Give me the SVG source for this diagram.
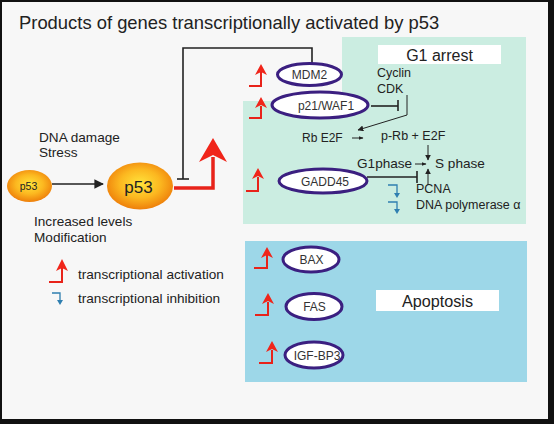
<svg xmlns="http://www.w3.org/2000/svg" width="554" height="424" viewBox="0 0 554 424">
<defs>
<style>
text{font-family:"Liberation Sans",Arial,Helvetica,sans-serif;fill:#222}
.gene{fill:#fff;stroke:#3b1f80;stroke-width:3}
.gl{font-size:12px;text-anchor:middle;fill:#333}
.blk{fill:none;stroke:#222;stroke-width:1.6}
.thin{fill:none;stroke:#222;stroke-width:1}
.red{fill:none;stroke:#e8231a;stroke-width:2}
.redh{fill:#f0251a}
.blu{fill:none;stroke:#2f7fb0;stroke-width:1.3}
.bluh{fill:#2f7fb0}
.t12{font-size:12.5px}
.t13{font-size:13.6px}
</style>
<radialGradient id="og" cx="50%" cy="45%" r="55%">
<stop offset="0" stop-color="#ffe43c"/>
<stop offset="0.55" stop-color="#fcb820"/>
<stop offset="1" stop-color="#ee7f0a"/>
</radialGradient>
<marker id="ah" viewBox="0 0 10 10" refX="9" refY="5" markerWidth="6" markerHeight="6" orient="auto">
<path d="M0,0 L10,5 L0,10 z" fill="#222"/>
</marker>
<marker id="ahs" viewBox="0 0 10 10" refX="9" refY="5" markerWidth="5" markerHeight="5" orient="auto">
<path d="M0,1 L10,5 L0,9 z" fill="#222"/>
</marker>
</defs>

<rect x="0" y="0" width="554" height="424" fill="#111"/>
<rect x="2" y="2" width="546" height="417" fill="#f7f7f7"/>

<g id="g1-region">
<polygon points="342,37 526,37 526,224 243,224 243,101 342,101" fill="#cbede1"/>
<rect x="378" y="45" width="123" height="19" fill="#fff"/>
<text x="439.5" y="61" font-size="16" text-anchor="middle">G1 arrest</text>
</g>

<g id="apoptosis-region">
<rect x="245" y="241" width="282" height="141" fill="#9dd7e8"/>
<rect x="376" y="290" width="123" height="21" fill="#fff"/>
<text x="437.5" y="307" font-size="16.2" text-anchor="middle">Apoptosis</text>
</g>

<text id="title" x="19" y="29" font-size="18.4">Products of genes transcriptionally activated by p53</text>

<g id="inputs">
<text x="39" y="142" class="t13">DNA damage</text>
<text x="39" y="157" class="t13">Stress</text>
<text x="34" y="226" class="t13">Increased levels</text>
<text x="34" y="242" class="t13">Modification</text>
</g>

<g id="p53-small">
<ellipse cx="29.5" cy="186" rx="22.5" ry="16" fill="url(#og)"/>
<text x="28.5" y="190" font-size="10.5" text-anchor="middle">p53</text>
</g>

<g id="p53-big">
<ellipse cx="140" cy="186" rx="33" ry="23.5" fill="url(#og)"/>
<text x="138.5" y="193" font-size="17" text-anchor="middle">p53</text>
</g>

<g id="connectors">
<line x1="52" y1="184" x2="103" y2="184" class="blk" marker-end="url(#ah)"/>
<polyline points="312,63 312,48 183,48 183,179" class="blk"/>
<line x1="177" y1="179" x2="189" y2="179" class="blk"/>
<polyline points="174,188 213,188 213,157" fill="none" stroke="#e8231a" stroke-width="3.5"/>
<polygon points="213,138 227,162 213,155 199,162" class="redh"/>

<line x1="371" y1="106" x2="398" y2="106" class="blk"/>
<line x1="398" y1="100" x2="398" y2="111" class="blk"/>
<polyline points="407,95 407,115 358,130" class="thin" marker-end="url(#ah)"/>
<line x1="352" y1="138" x2="363" y2="138" class="thin" marker-end="url(#ahs)"/>
<line x1="428" y1="145" x2="428" y2="160" class="thin" marker-end="url(#ah)"/>
<line x1="415" y1="164" x2="426" y2="164" class="thin" marker-end="url(#ahs)"/>
<line x1="428" y1="185" x2="428" y2="169" class="thin" marker-end="url(#ah)"/>
<line x1="367" y1="177" x2="417" y2="177" class="blk"/>
<line x1="417" y1="171" x2="417" y2="183" class="blk"/>
</g>

<g id="act-mdm2"><polyline points="249,86 261,86 261,72" class="red"/><polygon points="261,64 267,75 261,72 255,75" class="redh"/></g>
<g id="act-p21"><polyline points="249,118 261,118 261,106" class="red"/><polygon points="261,97 267,108 261,105 255,108" class="redh"/></g>
<g id="act-gadd45"><polyline points="246,191 258,191 258,177" class="red"/><polygon points="258,168 264,179 258,176 252,179" class="redh"/></g>
<g id="act-bax"><polyline points="254,268 267,268 267,255" class="red"/><polygon points="267,247 273,258 267,255 261,258" class="redh"/></g>
<g id="act-fas"><polyline points="255,315 268,315 268,302" class="red"/><polygon points="268,293 274,304 268,301 262,304" class="redh"/></g>
<g id="act-igf"><polyline points="259,363 272,363 272,350" class="red"/><polygon points="272,341 278,352 272,349 266,352" class="redh"/></g>

<g id="inh-pcna"><polyline points="388,185 397,185 397,194" class="blu"/><polygon points="394,193 400,193 397,198" class="bluh"/></g>
<g id="inh-pol"><polyline points="388,202 397,202 397,210" class="blu"/><polygon points="394,209 400,209 397,214" class="bluh"/></g>

<g id="mdm2"><ellipse cx="309.5" cy="74.5" rx="32" ry="11" class="gene"/><text x="309.5" y="79" class="gl">MDM2</text></g>
<g id="p21"><ellipse cx="320" cy="105" rx="48" ry="13" class="gene"/><text x="326" y="110" class="gl" font-size="13">p21/WAF1</text></g>
<g id="gadd45"><ellipse cx="323" cy="181" rx="44" ry="12" class="gene"/><text x="325" y="185.5" class="gl">GADD45</text></g>
<g id="bax"><ellipse cx="311" cy="259.5" rx="28" ry="12.5" class="gene"/><text x="311.5" y="264" class="gl">BAX</text></g>
<g id="fas"><ellipse cx="314" cy="306.5" rx="28" ry="13" class="gene"/><text x="314.5" y="311" class="gl">FAS</text></g>
<g id="igfbp3"><ellipse cx="314" cy="355" rx="29" ry="13" class="gene"/><text x="317" y="359.5" class="gl" font-size="13">IGF-BP3</text></g>

<g id="g1-labels">
<text x="377" y="77" class="t12">Cyclin</text>
<text x="377" y="93" class="t12">CDK</text>
<text x="302" y="142" font-size="12">Rb E2F</text>
<text x="381" y="140" class="t12">p-Rb + E2F</text>
<text x="357" y="168" class="t13">G1phase</text>
<text x="435" y="168" class="t13">S phase</text>
<text x="416" y="193" class="t12">PCNA</text>
<text x="416" y="209" class="t12">DNA polymerase α</text>
</g>

<g id="legend">
<polyline points="49,282 62,282 62,268" class="red"/><polygon points="62,259 68,271 62,268 56,271" class="redh"/>
<text x="78" y="279" class="t13">transcriptional activation</text>
<polyline points="52,293 60,293 60,301" class="blu"/><polygon points="57,300 63,300 60,305" class="bluh"/>
<text x="78" y="303" class="t13">transcriptional inhibition</text>
</g>
</svg>
